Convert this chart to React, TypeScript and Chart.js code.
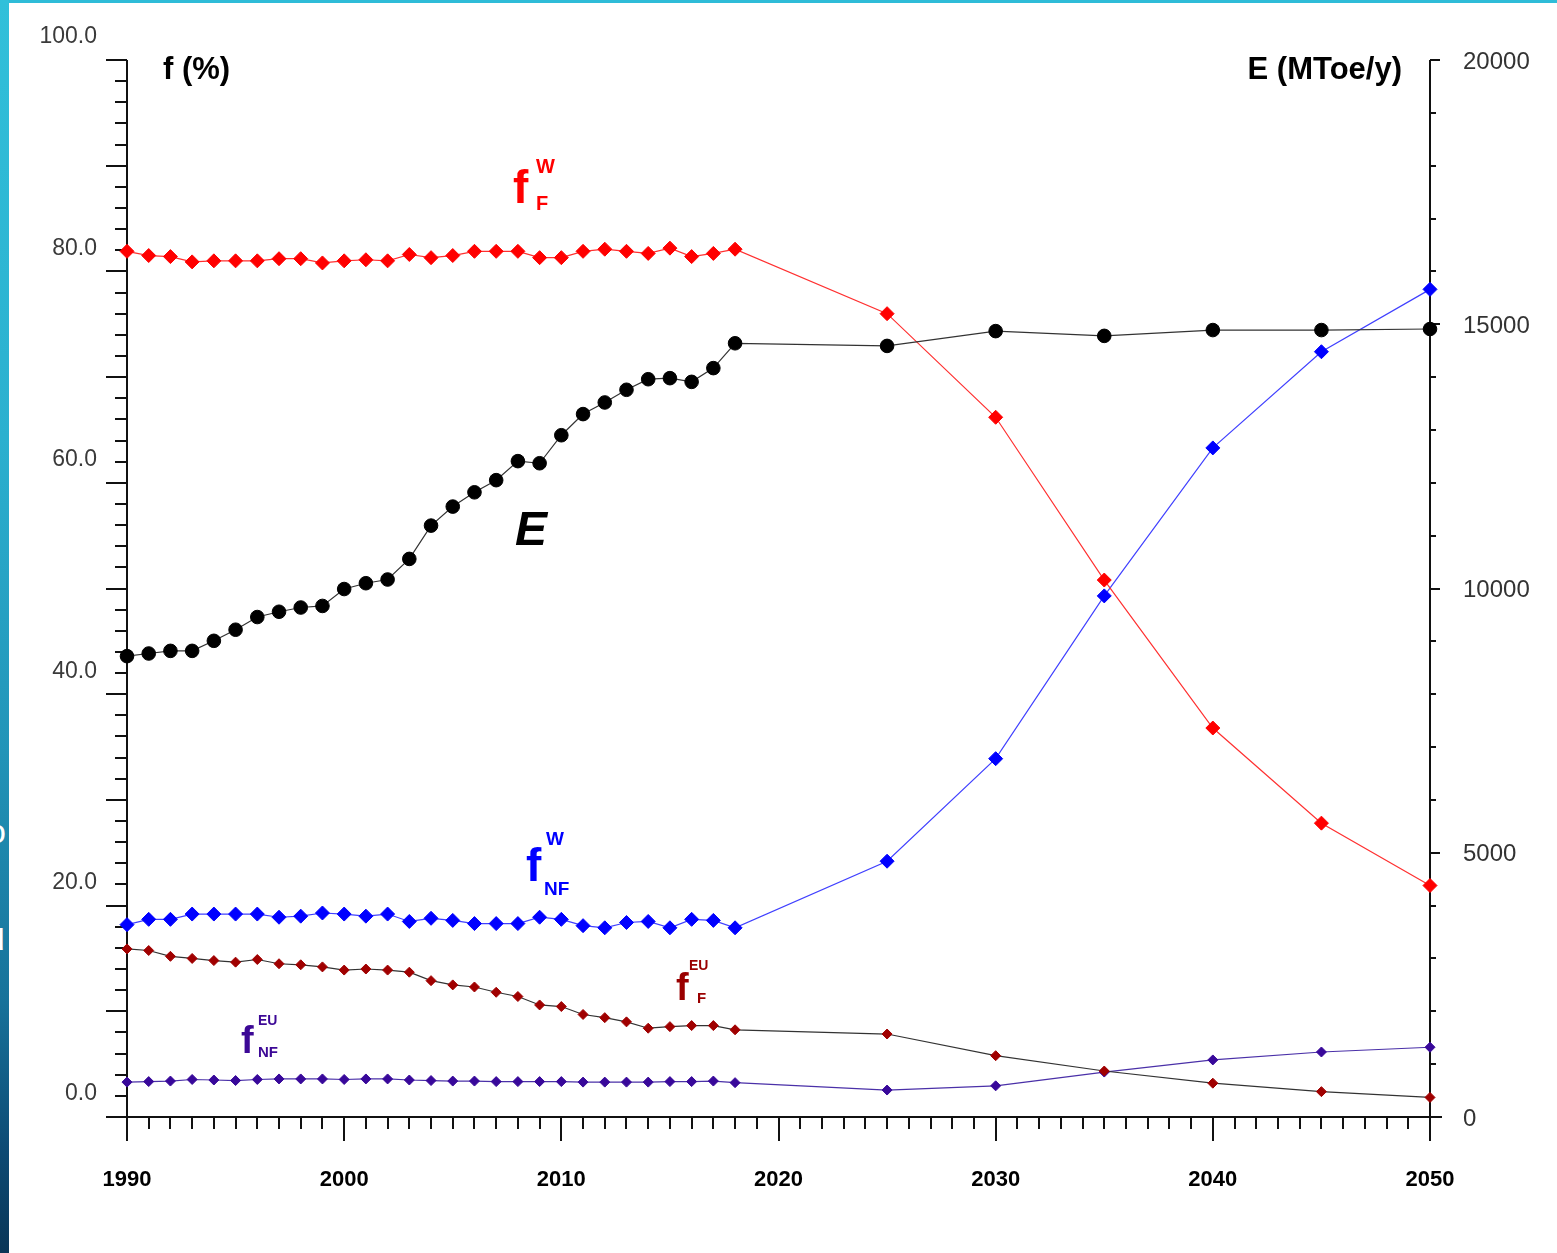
import React, { useEffect, useRef } from 'react';
import { Chart, registerables } from 'chart.js';

Chart.register(...registerables);

// ---------------- data ----------------
const YEARS = [
  1990, 1991, 1992, 1993, 1994, 1995, 1996, 1997, 1998, 1999,
  2000, 2001, 2002, 2003, 2004, 2005, 2006, 2007, 2008, 2009,
  2010, 2011, 2012, 2013, 2014, 2015, 2016, 2017, 2018,
  2025, 2030, 2035, 2040, 2045, 2050,
];

// world fossil share f_F^W (%)
const F_FOSSIL_WORLD = [
  81.9, 81.5, 81.4, 80.9, 81.0, 81.0, 81.0, 81.2, 81.2, 80.8,
  81.0, 81.1, 81.0, 81.6, 81.3, 81.5, 81.9, 81.9, 81.9, 81.3,
  81.3, 81.9, 82.1, 81.9, 81.7, 82.2, 81.4, 81.7, 82.1,
  76.0, 66.2, 50.8, 36.8, 27.8, 21.9,
];

// world non-fossil share f_NF^W (%)
const F_NONFOSSIL_WORLD = [
  18.2, 18.7, 18.7, 19.2, 19.2, 19.2, 19.2, 18.9, 19.0, 19.3,
  19.2, 19.0, 19.2, 18.5, 18.8, 18.6, 18.3, 18.3, 18.3, 18.9,
  18.7, 18.1, 17.9, 18.4, 18.5, 17.9, 18.7, 18.6, 17.9,
  24.2, 33.9, 49.3, 63.3, 72.4, 78.3,
];

// world energy E (MToe/y)
const ENERGY = [
  8720, 8770, 8820, 8820, 9010, 9220, 9460, 9560, 9640, 9670,
  9990, 10100, 10170, 10560, 11190, 11550, 11820, 12050, 12410, 12370,
  12900, 13300, 13520, 13760, 13960, 13980, 13910, 14170, 14640,
  14590, 14870, 14780, 14890, 14890, 14910,
];

// EU fossil share f_F^EU (%)
const F_FOSSIL_EU = [
  15.9, 15.75, 15.2, 15.0, 14.8, 14.65, 14.9, 14.5, 14.4, 14.2,
  13.9, 14.0, 13.9, 13.7, 12.9, 12.5, 12.3, 11.8, 11.4, 10.6,
  10.45, 9.7, 9.4, 9.0, 8.4, 8.55, 8.65, 8.65, 8.25,
  7.85, 5.8, 4.35, 3.2, 2.4, 1.85,
];

// EU non-fossil share f_NF^EU (%)
const F_NONFOSSIL_EU = [
  3.3, 3.35, 3.4, 3.55, 3.5, 3.45, 3.55, 3.6, 3.6, 3.6,
  3.55, 3.6, 3.6, 3.5, 3.45, 3.4, 3.4, 3.35, 3.35, 3.35,
  3.35, 3.3, 3.3, 3.3, 3.3, 3.35, 3.35, 3.4, 3.25,
  2.55, 2.95, 4.25, 5.4, 6.15, 6.6,
];

const X_TICKS = [1990, 2000, 2010, 2020, 2030, 2040, 2050];
const LEFT_TICK_LABELS = [0, 20, 40, 60, 80, 100];
const RIGHT_TICK_LABELS = [0, 5000, 10000, 15000, 20000];

// ---------------- styles ----------------
const FONT = '"Liberation Sans", Arial, Helvetica, sans-serif';
const W = 1557;
const H = 1253;

const ANNOTATIONS = [
  { base: 'f', sup: 'W', sub: 'F', color: '#ff0000', year: 2007.77, value: 86.5, size: 46, supSize: 20, subSize: 20, supDx: 23, supDy: -30, subDx: 23, subDy: 7, italic: false },
  { base: 'E', sup: '', sub: '', color: '#000000', year: 2007.87, value: 54.1, size: 48, supSize: 0, subSize: 0, supDx: 0, supDy: 0, subDx: 0, subDy: 0, italic: true },
  { base: 'f', sup: 'W', sub: 'NF', color: '#0000ff', year: 2008.37, value: 22.3, size: 46, supSize: 19, subSize: 19, supDx: 20, supDy: -36, subDx: 18, subDy: 14, italic: false },
  { base: 'f', sup: 'EU', sub: 'F', color: '#9a0000', year: 2015.28, value: 11.07, size: 38, supSize: 14, subSize: 15, supDx: 13, supDy: -30, subDx: 21, subDy: 3, italic: false },
  { base: 'f', sup: 'EU', sub: 'NF', color: '#3c0896', year: 1995.25, value: 6.06, size: 38, supSize: 14, subSize: 15, supDx: 17, supDy: -28, subDx: 17, subDy: 4, italic: false },
];

function toPoints(values: number[]) {
  return YEARS.map((yr, i) => ({ x: yr, y: values[i] }));
}

const axesPlugin = {
  id: 'customAxes',
  beforeDatasetsDraw(chart: any) {
    const { ctx, chartArea: ca, scales } = chart;
    const xs = scales.x;
    const yl = scales.y;
    const yr = scales.y1;
    ctx.save();
    ctx.strokeStyle = '#111';
    ctx.lineWidth = 2;
    ctx.lineCap = 'butt';
    const seg = (x1: number, y1: number, x2: number, y2: number) => {
      ctx.beginPath();
      ctx.moveTo(x1, y1);
      ctx.lineTo(x2, y2);
      ctx.stroke();
    };
    const L = Math.round(ca.left);
    const R = Math.round(ca.right);
    const B = Math.round(ca.bottom);
    const T = Math.round(ca.top);
    // axis lines
    seg(L, T, L, B + 24);
    seg(R, T, R, B + 24);
    seg(L - 21, B, R + 12, B);
    // left ticks: every 2, major every 10
    for (let v = 0; v <= 100; v += 2) {
      const y = Math.round(yl.getPixelForValue(v));
      const len = v % 10 === 0 ? 21 : 12;
      seg(L - len, y, L, y);
    }
    // right ticks: every 1000, major every 5000
    for (let v = 0; v <= 20000; v += 1000) {
      const y = Math.round(yr.getPixelForValue(v));
      const len = v % 5000 === 0 ? 10 : 6;
      seg(R, y, R + len, y);
    }
    // x ticks: every year, major every decade
    for (let yv = 1990; yv <= 2050; yv += 1) {
      const x = Math.round(xs.getPixelForValue(yv));
      const len = yv % 10 === 0 ? 24 : 12;
      seg(x, B, x, B + len);
    }
    // left tick labels (drawn shifted up as in the original figure)
    ctx.fillStyle = '#3a3a3a';
    ctx.font = `23px ${FONT}`;
    ctx.textAlign = 'right';
    ctx.textBaseline = 'middle';
    for (const v of LEFT_TICK_LABELS) {
      const y = yl.getPixelForValue(v) - 23;
      ctx.fillText(v.toFixed(1), L - 30, y);
    }
    // right tick labels
    ctx.fillStyle = '#333';
    ctx.font = `24px ${FONT}`;
    ctx.textAlign = 'left';
    for (const v of RIGHT_TICK_LABELS) {
      const y = yr.getPixelForValue(v) + 2;
      ctx.fillText(String(v), R + 33, y);
    }
    // axis titles
    ctx.fillStyle = '#000';
    ctx.font = `bold 31px ${FONT}`;
    ctx.textBaseline = 'alphabetic';
    ctx.textAlign = 'left';
    ctx.fillText('f (%)', L + 36, T + 19);
    ctx.textAlign = 'right';
    ctx.fillText('E (MToe/y)', R - 28, T + 19);
    ctx.restore();
  },
  afterDraw(chart: any) {
    const { ctx, scales } = chart;
    const xs = scales.x;
    const yl = scales.y;
    ctx.save();
    ctx.textAlign = 'left';
    ctx.textBaseline = 'alphabetic';
    for (const a of ANNOTATIONS) {
      const x = xs.getPixelForValue(a.year);
      const y = yl.getPixelForValue(a.value);
      ctx.fillStyle = a.color;
      ctx.font = `${a.italic ? 'italic ' : ''}bold ${a.size}px ${FONT}`;
      ctx.fillText(a.base, x, y);
      if (a.sup) {
        ctx.font = `bold ${a.supSize}px ${FONT}`;
        ctx.fillText(a.sup, x + a.supDx, y + a.supDy);
      }
      if (a.sub) {
        ctx.font = `bold ${a.subSize}px ${FONT}`;
        ctx.fillText(a.sub, x + a.subDx, y + a.subDy);
      }
    }
    ctx.restore();
  },
};

export default function App() {
  const canvasRef = useRef<HTMLCanvasElement | null>(null);

  useEffect(() => {
    const canvas = canvasRef.current;
    if (!canvas) return;
    const chart = new Chart(canvas, {
      type: 'line',
      data: {
        datasets: [
          {
            label: 'E',
            data: toPoints(ENERGY),
            yAxisID: 'y1',
            borderColor: '#333333',
            borderWidth: 1.2,
            pointStyle: 'circle',
            pointRadius: 6.8,
            pointBackgroundColor: '#000000',
            pointBorderColor: '#000000',
            pointBorderWidth: 1,
            clip: false,
          },
          {
            label: 'fFW',
            data: toPoints(F_FOSSIL_WORLD),
            yAxisID: 'y',
            borderColor: '#ff3030',
            borderWidth: 1.2,
            pointStyle: 'rectRot',
            pointRadius: 7,
            pointBackgroundColor: '#ff0000',
            pointBorderColor: '#ff0000',
            pointBorderWidth: 1,
            clip: false,
          },
          {
            label: 'fNFW',
            data: toPoints(F_NONFOSSIL_WORLD),
            yAxisID: 'y',
            borderColor: '#4040ff',
            borderWidth: 1.2,
            pointStyle: 'rectRot',
            pointRadius: 7,
            pointBackgroundColor: '#0000ff',
            pointBorderColor: '#0000ff',
            pointBorderWidth: 1,
            clip: false,
          },
          {
            label: 'fFEU',
            data: toPoints(F_FOSSIL_EU),
            yAxisID: 'y',
            borderColor: '#333333',
            borderWidth: 1.2,
            pointStyle: 'rectRot',
            pointRadius: 5,
            pointBackgroundColor: '#a00000',
            pointBorderColor: '#a00000',
            pointBorderWidth: 1,
            clip: false,
          },
          {
            label: 'fNFEU',
            data: toPoints(F_NONFOSSIL_EU),
            yAxisID: 'y',
            borderColor: '#4a30a8',
            borderWidth: 1.2,
            pointStyle: 'rectRot',
            pointRadius: 5,
            pointBackgroundColor: '#38089a',
            pointBorderColor: '#38089a',
            pointBorderWidth: 1,
            clip: false,
          },
        ],
      },
      options: {
        responsive: false,
        animation: false,
        devicePixelRatio: 1,
        layout: { padding: { top: 60, left: 0, right: 0, bottom: 0 } },
        plugins: {
          legend: { display: false },
          tooltip: { enabled: false },
        },
        elements: { line: { tension: 0 } },
        scales: {
          x: {
            type: 'linear',
            position: 'bottom',
            min: 1990,
            max: 2050,
            afterBuildTicks: (scale: any) => {
              scale.ticks = X_TICKS.map((v) => ({ value: v }));
            },
            afterFit: (scale: any) => {
              scale.height = 136;
            },
            grid: { display: false, drawTicks: false },
            border: { display: false },
            ticks: {
              autoSkip: false,
              maxRotation: 0,
              padding: 50,
              color: '#000',
              font: { family: FONT, size: 22, weight: 'bold' },
              callback: (v: any) => String(v),
            },
          },
          y: {
            type: 'linear',
            position: 'left',
            min: 0,
            max: 100,
            afterFit: (scale: any) => {
              scale.width = 127;
            },
            grid: { display: false, drawTicks: false },
            border: { display: false },
            ticks: { display: false },
          },
          y1: {
            type: 'linear',
            position: 'right',
            min: 0,
            max: 20000,
            afterBuildTicks: (scale: any) => {
              scale.ticks = RIGHT_TICK_LABELS.map((v) => ({ value: v }));
            },
            afterFit: (scale: any) => {
              scale.width = 127;
            },
            grid: { display: false, drawTicks: false },
            border: { display: false },
            ticks: { display: false },
          },
        },
      } as any,
      plugins: [axesPlugin],
    });
    return () => chart.destroy();
  }, []);

  return (
    <div style={{ position: 'absolute', left: 0, top: 0, width: W, height: H, background: '#fff', overflow: 'hidden' }}>
      <canvas ref={canvasRef} width={W} height={H} style={{ position: 'absolute', left: 0, top: 0, width: W, height: H }} />
      <div style={{ position: 'absolute', left: 0, top: 0, width: W, height: 3, background: '#2fbcd8' }} />
      <div
        style={{
          position: 'absolute', left: 0, top: 0, width: 9, height: H, overflow: 'hidden',
          background: 'linear-gradient(to bottom, #31c0da 0%, #2bb0cf 35%, #2294b8 60%, #17729a 80%, #0d4a73 92%, #0a3657 100%)',
        }}
      >
        <span style={{ position: 'absolute', left: -13, top: 812, color: '#fff', font: `34px ${FONT}` }}>o</span>
        <span style={{ position: 'absolute', left: -17, top: 914, color: '#fff', font: `40px ${FONT}` }}>u</span>
      </div>
    </div>
  );
}
